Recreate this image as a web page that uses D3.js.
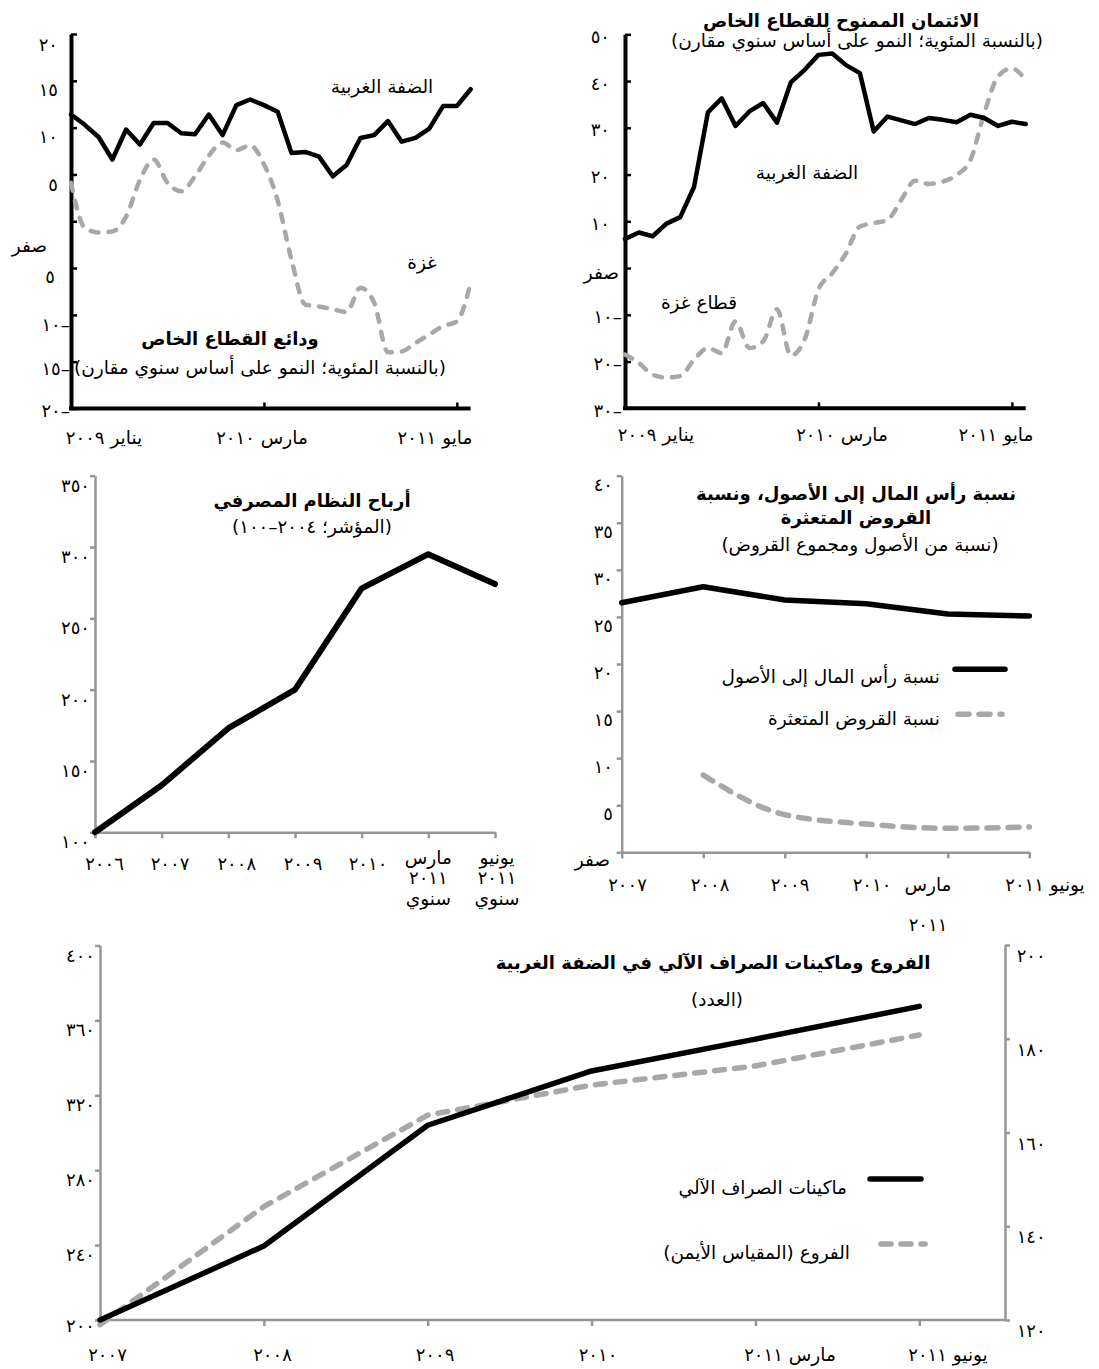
<!DOCTYPE html>
<html lang="ar">
<head>
<meta charset="utf-8">
<script src="https://cdn.jsdelivr.net/npm/d3@7"></script>
<style>
  body { margin: 0; background: #fff; }
  svg text { font-family: "DejaVu Sans", sans-serif; fill: #000; }
</style>
</head>
<body>
<svg id="chart" width="1099" height="1369"></svg>
<script>
// ---------- data ----------
const MONTHS = ["2009-01","2009-02","2009-03","2009-04","2009-05","2009-06","2009-07","2009-08","2009-09","2009-10","2009-11","2009-12",
                "2010-01","2010-02","2010-03","2010-04","2010-05","2010-06","2010-07","2010-08","2010-09","2010-10","2010-11","2010-12",
                "2011-01","2011-02","2011-03","2011-04","2011-05","2011-06"];

// private sector deposits, % yoy
const DEP_WB   = [11.4,10.3,9.0,6.6,9.8,8.2,10.5,10.5,9.4,9.3,11.4,9.2,12.4,13.0,12.4,11.7,7.3,7.4,6.9,4.8,6.0,8.9,9.2,10.7,8.5,8.9,9.9,12.3,12.3,14.1];
const DEP_GAZA = [4.1,-0.7,-1.2,-1.1,0.5,4.4,6.6,4.1,3.2,4.8,7.0,8.4,7.6,8.1,6.1,2.2,-4.1,-8.9,-9.1,-9.4,-9.7,-7.1,-8.7,-14.0,-13.9,-13.0,-12.1,-11.2,-10.7,-6.6];
const DEP_TICKS = [20,15,10,5,0,-5,-10,-15,-20];
const DEP_TICK_LABELS = ["٢٠","١٥","١٠","٥","صفر","٥","١٠–","١٥–","٢٠–"];
const DEP_X_TICKS = ["2009-01","2010-03","2011-05"];
const DEP_X_LABELS = ["يناير ٢٠٠٩","مارس ٢٠١٠","مايو ٢٠١١"];

// credit to private sector, % yoy
const CREDIT_WB   = [6.2,7.6,6.8,9.5,10.9,17.4,33.3,36.3,30.4,33.5,35.3,31.1,39.7,42.4,45.6,45.9,43.4,41.7,29.2,32.4,31.6,30.8,32.1,31.7,31.2,32.8,32.1,30.4,31.3,30.8];
const CREDIT_GAZA = [-18.5,-20.3,-22.8,-23.4,-23.1,-19.6,-17.1,-18.2,-11.4,-17.1,-15.7,-8.8,-18.7,-15.3,-4.6,-1.1,3.2,8.9,9.6,10.3,14.6,18.7,18.0,18.5,19.9,23.1,33.1,41.0,42.7,40.2];
const CREDIT_TICKS = [50,40,30,20,10,0,-10,-20,-30];
const CREDIT_TICK_LABELS = ["٥٠","٤٠","٣٠","٢٠","١٠","صفر","١٠–","٢٠–","٣٠–"];

// banking system profits (index)
const PROFIT_CATS = ["2006","2007","2008","2009","2010","Mar2011","Jun2011"];
const PROFIT_X_LABELS = [["٢٠٠٦"],["٢٠٠٧"],["٢٠٠٨"],["٢٠٠٩"],["٢٠١٠"],["مارس","٢٠١١","سنوي"],["يونيو","٢٠١١","سنوي"]];
const PROFIT = [100,133,173,200,271,295,274];
const PROFIT_TICKS = [100,150,200,250,300,350];
const PROFIT_TICK_LABELS = ["١٠٠","١٥٠","٢٠٠","٢٥٠","٣٠٠","٣٥٠"];

// capital-to-assets and NPL ratios
const RATIO_CATS = ["2007","2008","2009","2010","Mar2011","Jun2011"];
const RATIO_X_LABELS = [["٢٠٠٧"],["٢٠٠٨"],["٢٠٠٩"],["٢٠١٠"],["مارس","٢٠١١"],["يونيو ٢٠١١"]];
const CAP_ASSETS = [26.5,28.2,26.8,26.4,25.3,25.1];
const NPL = [null,8.2,4.0,3.0,2.55,2.7];
const RATIO_TICKS = [0,5,10,15,20,25,30,35,40];
const RATIO_TICK_LABELS = ["صفر","٥","١٠","١٥","٢٠","٢٥","٣٠","٣٥","٤٠"];

// branches and ATMs in the West Bank
const NET_CATS = ["2007","2008","2009","2010","Mar2011","Jun2011"];
const NET_X_LABELS = ["٢٠٠٧","٢٠٠٨","٢٠٠٩","٢٠١٠","مارس ٢٠١١","يونيو ٢٠١١"];
const ATMS = [200,239.5,304,333,350,367.5];
const BRANCHES = [119,144.2,163.7,170.1,174.2,180.8];
const ATM_TICKS = [200,240,280,320,360,400];
const ATM_TICK_LABELS = ["٢٠٠","٢٤٠","٢٨٠","٣٢٠","٣٦٠","٤٠٠"];
const BRANCH_TICKS = [120,140,160,180,200];
const BRANCH_TICK_LABELS = ["١٢٠","١٤٠","١٦٠","١٨٠","٢٠٠"];

// ---------- helpers ----------
const svg = d3.select("#chart");
const GRAY = "#a8a8a8";
const AXIS_GRAY = "#969696";
const DIGITS = /([٠-٩]+)/;

// text with the Arabic-Indic digit runs spaced out a little, like the original
function txt(g, s, x, y, o = {}) {
  const t = g.append("text")
    .attr("x", x).attr("y", y)
    .attr("font-size", o.size || 18.5)
    .attr("font-weight", o.bold ? "bold" : "normal")
    .attr("text-anchor", o.anchor || "middle")
    .attr("direction", o.dir || "ltr");
  s.split(DIGITS).forEach(p => {
    if (!p) return;
    const ts = t.append("tspan").text(p);
    if (/^[٠-٩]+$/.test(p)) ts.attr("font-size", 18).attr("letter-spacing", 2.5);
  });
  return t;
}

function solid(g, data, xs, cats, ys, w, curve) {
  const gen = d3.line().defined(d => d != null)
    .x((d, i) => xs(cats[i])).y(d => ys(d))
    .curve(curve || d3.curveLinear);
  g.append("path").datum(data).attr("d", gen)
    .attr("fill", "none").attr("stroke", "#000").attr("stroke-width", w)
    .attr("stroke-linejoin", "round").attr("stroke-linecap", "round");
}

function dashed(g, data, xs, cats, ys, w, dash, curve) {
  const gen = d3.line().defined(d => d != null)
    .x((d, i) => xs(cats[i])).y(d => ys(d))
    .curve(curve || d3.curveMonotoneX);
  g.append("path").datum(data).attr("d", gen)
    .attr("fill", "none").attr("stroke", GRAY).attr("stroke-width", w)
    .attr("stroke-dasharray", dash).attr("stroke-linecap", "round");
}

// ---------- panel 1: deposits ----------
{
  const g = svg.append("g");
  const x = d3.scalePoint().domain(MONTHS).range([71, 470.6]);
  const y = d3.scaleLinear().domain([-20, 20]).range([408.5, 34]);

  g.append("g").attr("transform", "translate(71,0)")
    .call(d3.axisRight(y).tickValues(DEP_TICKS).tickSize(6).tickSizeOuter(0).tickFormat(""))
    .call(a => a.select(".domain").attr("stroke-width", 4))
    .call(a => a.selectAll(".tick line").attr("stroke-width", 2.5));
  g.append("g").attr("transform", "translate(0,408.5)")
    .call(d3.axisTop(x).tickValues(DEP_X_TICKS.slice(1)).tickSize(6).tickSizeOuter(0).tickFormat(""))
    .call(a => a.select(".domain").remove())
    .call(a => a.selectAll(".tick line").attr("stroke-width", 2.5));
  g.append("line").attr("x1", 69).attr("x2", 470.6).attr("y1", 408.5).attr("y2", 408.5)
    .attr("stroke", "#000").attr("stroke-width", 4);

  const dy = [11, 9, 9, 11, 25, 9, 10, 7, 2];
  DEP_TICKS.forEach((v, i) => {
    const lab = DEP_TICK_LABELS[i];
    let xe = 58;
    if (lab === "صفر") xe = 47;
    else if (lab.includes("–")) xe = 70;
    else if (v < 0) xe = 55;
    txt(g, lab, xe, y(v) + dy[i] + 6, { anchor: "end" });
  });
  const xc = [104, 262, 435];
  DEP_X_TICKS.forEach((m, i) => txt(g, DEP_X_LABELS[i], xc[i], 444, { dir: "rtl" }));

  dashed(g, DEP_GAZA, x, MONTHS, y, 4.5, "8,10");
  solid(g, DEP_WB, x, MONTHS, y, 4.5);

  txt(g, "الضفة الغربية", 382, 93, { dir: "rtl" });
  txt(g, "غزة", 422, 269, { dir: "rtl" });
  txt(g, "ودائع القطاع الخاص", 230, 345, { dir: "rtl", bold: true, size: 18 });
  txt(g, "(بالنسبة المئوية؛ النمو على أساس سنوي مقارن)", 260, 374, { dir: "rtl" });
}

// ---------- panel 2: credit ----------
{
  const g = svg.append("g");
  const x = d3.scalePoint().domain(MONTHS).range([625, 1025.7]);
  const y = d3.scaleLinear().domain([-30, 50]).range([408.3, 34.3]);

  g.append("g").attr("transform", "translate(625,0)")
    .call(d3.axisRight(y).tickValues(CREDIT_TICKS).tickSize(6).tickSizeOuter(0).tickFormat(""))
    .call(a => a.select(".domain").attr("stroke-width", 4))
    .call(a => a.selectAll(".tick line").attr("stroke-width", 2.5));
  g.append("g").attr("transform", "translate(0,408.3)")
    .call(d3.axisTop(x).tickValues(DEP_X_TICKS.slice(1)).tickSize(6).tickSizeOuter(0).tickFormat(""))
    .call(a => a.select(".domain").remove())
    .call(a => a.selectAll(".tick line").attr("stroke-width", 2.5));
  g.append("line").attr("x1", 623).attr("x2", 1025.7).attr("y1", 408.3).attr("y2", 408.3)
    .attr("stroke", "#000").attr("stroke-width", 4);

  CREDIT_TICKS.forEach((v, i) => {
    const lab = CREDIT_TICK_LABELS[i];
    let xe = 610, d = 2.5;
    if (lab === "صفر") { xe = 619; d = 5; }
    else if (lab.includes("–")) xe = 622;
    txt(g, lab, xe, y(v) + d + 6, { anchor: "end" });
  });
  const xc = [656, 842, 996];
  DEP_X_TICKS.forEach((m, i) => txt(g, DEP_X_LABELS[i], xc[i], 441, { dir: "rtl" }));

  dashed(g, CREDIT_GAZA, x, MONTHS, y, 4.5, "8,10");
  solid(g, CREDIT_WB, x, MONTHS, y, 4.5);

  txt(g, "الضفة الغربية", 807, 179, { dir: "rtl" });
  txt(g, "قطاع غزة", 699, 309, { dir: "rtl" });
  txt(g, "الائتمان الممنوح للقطاع الخاص", 841, 27, { dir: "rtl", bold: true, size: 18 });
  txt(g, "(بالنسبة المئوية؛ النمو على أساس سنوي مقارن)", 857, 47, { dir: "rtl" });
}

// ---------- panel 3: profits ----------
{
  const g = svg.append("g");
  const x = d3.scalePoint().domain(PROFIT_CATS).range([95, 495]);
  const y = d3.scaleLinear().domain([100, 350]).range([832.3, 475.7]);

  g.append("g").attr("transform", "translate(95,0)")
    .call(d3.axisLeft(y).tickValues(PROFIT_TICKS).tickSize(5).tickSizeOuter(0).tickFormat(""))
    .call(a => a.selectAll("path,line").attr("stroke", AXIS_GRAY).attr("stroke-width", 2.5));
  g.append("g").attr("transform", "translate(0,832.3)")
    .call(d3.axisBottom(x).tickSize(6).tickSizeOuter(0).tickFormat(""))
    .call(a => a.selectAll("path,line").attr("stroke", AXIS_GRAY).attr("stroke-width", 2.5));

  PROFIT_TICKS.forEach((v, i) => txt(g, PROFIT_TICK_LABELS[i], 90, y(v) + 16, { anchor: "end" }));
  const dx = [9.5, 8.3, 8.4, 8, 6.3, 0, 2];
  const rows = [864, 884, 905];
  PROFIT_CATS.forEach((c, i) => {
    const lines = PROFIT_X_LABELS[i];
    lines.forEach((s, j) => txt(g, s, x(c) + dx[i], lines.length === 1 ? 870 : rows[j], { dir: "rtl" }));
  });

  solid(g, PROFIT, x, PROFIT_CATS, y, 6);

  txt(g, "أرباح النظام المصرفي", 312, 507, { dir: "rtl", bold: true, size: 18 });
  txt(g, "(المؤشر؛ ٢٠٠٤–١٠٠)", 312, 533, { dir: "rtl" });
}

// ---------- panel 4: capital / NPL ratios ----------
{
  const g = svg.append("g");
  const x = d3.scalePoint().domain(RATIO_CATS).range([621.7, 1029.3]);
  const y = d3.scaleLinear().domain([0, 40]).range([852.3, 475.7]);

  g.append("g").attr("transform", "translate(621.7,0)")
    .call(d3.axisLeft(y).tickValues(RATIO_TICKS).tickSize(5).tickSizeOuter(0).tickFormat(""))
    .call(a => a.selectAll("path,line").attr("stroke", AXIS_GRAY).attr("stroke-width", 2.5));
  g.append("g").attr("transform", "translate(0,852.3)")
    .call(d3.axisBottom(x).tickSize(6).tickSizeOuter(0).tickFormat(""))
    .call(a => a.selectAll("path,line").attr("stroke", AXIS_GRAY).attr("stroke-width", 2.5));

  RATIO_TICKS.forEach((v, i) => {
    const lab = RATIO_TICK_LABELS[i];
    txt(g, lab, lab === "صفر" ? 610 : 613, y(v) + (lab === "صفر" ? 14 : 15), { anchor: "end" });
  });
  const xc = [627.5, 710, 790, 872, 928, 1045];
  RATIO_CATS.forEach((c, i) => {
    RATIO_X_LABELS[i].forEach((s, j) => txt(g, s, xc[i], j === 0 ? 891 : 931, { dir: "rtl" }));
  });

  dashed(g, NPL, x, RATIO_CATS, y, 5.5, "11,10");
  solid(g, CAP_ASSETS, x, RATIO_CATS, y, 5.5);

  txt(g, "نسبة رأس المال إلى الأصول، ونسبة", 856, 500, { dir: "rtl", bold: true, size: 18 });
  txt(g, "القروض المتعثرة", 856, 524, { dir: "rtl", bold: true, size: 18 });
  txt(g, "(نسبة من الأصول ومجموع القروض)", 860, 551, { dir: "rtl" });

  g.append("line").attr("x1", 955).attr("x2", 1005).attr("y1", 669.3).attr("y2", 669.3)
    .attr("stroke", "#000").attr("stroke-width", 5.5).attr("stroke-linecap", "round");
  g.append("line").attr("x1", 958).attr("x2", 1002).attr("y1", 714.3).attr("y2", 714.3)
    .attr("stroke", GRAY).attr("stroke-width", 5.5).attr("stroke-linecap", "round").attr("stroke-dasharray", "11,10");
  txt(g, "نسبة رأس المال إلى الأصول", 940, 683, { dir: "rtl", anchor: "start" });
  txt(g, "نسبة القروض المتعثرة", 940, 725, { dir: "rtl", anchor: "start" });
}

// ---------- panel 5: branches and ATMs ----------
{
  const g = svg.append("g");
  const x = d3.scalePoint().domain(NET_CATS).range([100, 919.3]);
  const yL = d3.scaleLinear().domain([200, 400]).range([1320, 945.5]);
  const yR = d3.scaleLinear().domain([120, 200]).range([1320, 945]);

  g.append("g").attr("transform", "translate(100,0)")
    .call(d3.axisLeft(yL).tickValues(ATM_TICKS).tickSize(5).tickSizeOuter(0).tickFormat(""))
    .call(a => a.selectAll("path,line").attr("stroke", AXIS_GRAY).attr("stroke-width", 2.5));
  g.append("g").attr("transform", "translate(1005,0)")
    .call(d3.axisRight(yR).tickValues(BRANCH_TICKS).tickSize(5).tickSizeOuter(0).tickFormat(""))
    .call(a => a.selectAll("path,line").attr("stroke", AXIS_GRAY).attr("stroke-width", 2.5));
  g.append("g").attr("transform", "translate(0,1320)")
    .call(d3.axisBottom(x).tickSize(6).tickSizeOuter(0).tickFormat(""))
    .call(a => a.select(".domain").remove())
    .call(a => a.selectAll("line").attr("stroke", AXIS_GRAY).attr("stroke-width", 2.5));
  g.append("line").attr("x1", 100).attr("x2", 1005).attr("y1", 1320).attr("y2", 1320)
    .attr("stroke", AXIS_GRAY).attr("stroke-width", 2.5);

  ATM_TICKS.forEach((v, i) => txt(g, ATM_TICK_LABELS[i], 95, yL(v) + (i === 0 ? 12 : 16), { anchor: "end" }));
  BRANCH_TICKS.forEach((v, i) => txt(g, BRANCH_TICK_LABELS[i], 1016.7, yR(v) + 17, { anchor: "start" }));
  const xc = [107.5, 272.5, 435, 598, 790, 948];
  NET_CATS.forEach((c, i) => txt(g, NET_X_LABELS[i], xc[i], 1361, { dir: "rtl" }));

  dashed(g, BRANCHES, x, NET_CATS, yR, 5.5, "10,10", d3.curveLinear);
  solid(g, ATMS, x, NET_CATS, yL, 5.5);

  txt(g, "الفروع وماكينات الصراف الآلي في الضفة الغربية", 713, 969, { dir: "rtl", bold: true, size: 18 });
  txt(g, "(العدد)", 717, 1006, { dir: "rtl" });

  g.append("line").attr("x1", 870).attr("x2", 921).attr("y1", 1179).attr("y2", 1179)
    .attr("stroke", "#000").attr("stroke-width", 5.5).attr("stroke-linecap", "round");
  g.append("line").attr("x1", 881).attr("x2", 925).attr("y1", 1244).attr("y2", 1244)
    .attr("stroke", GRAY).attr("stroke-width", 5.5).attr("stroke-linecap", "round").attr("stroke-dasharray", "10,10");
  txt(g, "ماكينات الصراف الآلي", 847, 1194, { dir: "rtl", anchor: "start" });
  txt(g, "الفروع (المقياس الأيمن)", 850, 1259, { dir: "rtl", anchor: "start" });
}
</script>
</body>
</html>
